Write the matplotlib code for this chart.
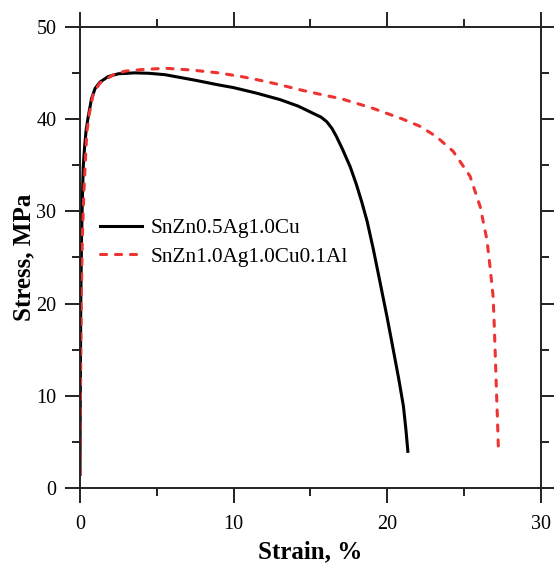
import matplotlib.pyplot as plt
from matplotlib.ticker import MultipleLocator

plt.rcParams["font.family"] = ["Liberation Serif", "DejaVu Serif"]

# Stress-strain data (strain in %, stress in MPa)
strain_a = [0, 0.02, 0.05, 0.1, 0.15, 0.21, 0.3, 0.4, 0.54, 0.75, 0.98, 1.3,
            1.84, 2.5, 3.58, 4.5, 5.54, 7.5, 9.0, 10.0, 11.5, 13.03, 14.2,
            15.2, 15.7, 16.07, 16.4, 16.7, 17.1, 17.6, 18.0, 18.35, 18.7,
            19.1, 19.54, 20.0, 20.4, 20.75, 21.06, 21.22, 21.35]
stress_a = [1.5, 10, 20, 27, 31, 34.8, 37.0, 38.8, 40.3, 42.2, 43.3, 44.0,
            44.6, 44.9, 45.0, 44.95, 44.8, 44.2, 43.7, 43.4, 42.8, 42.1, 41.4,
            40.6, 40.2, 39.7, 39.0, 38.1, 36.7, 34.8, 32.9, 31.0, 28.9,
            25.9, 22.3, 18.5, 15.0, 11.9, 8.9, 6.4, 4.0]

strain_b = [0, 0.03, 0.08, 0.15, 0.25, 0.44, 0.6, 0.87, 1.3, 2.28, 3.0, 4.0,
            5.54, 7.3, 9.0, 10.5, 12.0, 13.03, 14.5, 15.85, 17.0, 18.0, 19.0,
            20.0, 21.0, 22.15, 23.2, 24.3, 25.4, 26.06, 26.5, 26.7, 26.9,
            26.98, 27.05, 27.12, 27.19, 27.25]
stress_b = [1.5, 10, 20, 27, 32, 38.5, 40.5, 42.8, 43.9, 44.9, 45.2, 45.35,
            45.5, 45.3, 45.0, 44.6, 44.1, 43.7, 43.1, 42.6, 42.2, 41.7, 41.2,
            40.6, 40.0, 39.2, 38.1, 36.5, 33.8, 30.5, 26.9, 24.0, 20.8,
            17.5, 14.0, 10.5, 7.2, 4.0]

labels = ["SnZn0.5Ag1.0Cu", "SnZn1.0Ag1.0Cu0.1Al"]

fig = plt.figure(figsize=(5.54, 5.63), dpi=100)
ax = fig.add_axes([0.1444, 0.1327, 0.8316, 0.8199])

ax.plot(strain_a, stress_a, color="black", lw=2.2, label=labels[0])
ax.plot(strain_b, stress_b, color="#EE3333", lw=2.2, dashes=(2.0, 2.9),
        dash_capstyle="round", label=labels[1])

ax.set_xlim(0, 30)
ax.set_ylim(0, 50)
ax.xaxis.set_major_locator(MultipleLocator(10))
ax.xaxis.set_minor_locator(MultipleLocator(5))
ax.yaxis.set_major_locator(MultipleLocator(10))
ax.yaxis.set_minor_locator(MultipleLocator(5))

for side in ax.spines.values():
    side.set_linewidth(1.4)
    side.set_color("#222222")
ax.tick_params(which="both", direction="out", top=True, right=True,
               width=1.4, color="#222222", labelsize=14.5)
ax.tick_params(axis="x", pad=8)
ax.tick_params(axis="y", pad=6)
ax.tick_params(which="major", length=11)
ax.tick_params(which="minor", length=6)

ax.set_xlabel("Strain, %", fontsize=18, fontweight="bold", labelpad=5)
ax.set_ylabel("Stress, MPa", fontsize=18, fontweight="bold", labelpad=1)

ax.legend(loc="center left", bbox_to_anchor=(0.043, 0.5325), frameon=False,
          fontsize=15.3, handlelength=2.0, handletextpad=0.4,
          borderpad=0, borderaxespad=0, labelspacing=0.4)

fig.savefig("out.png", dpi=100)
